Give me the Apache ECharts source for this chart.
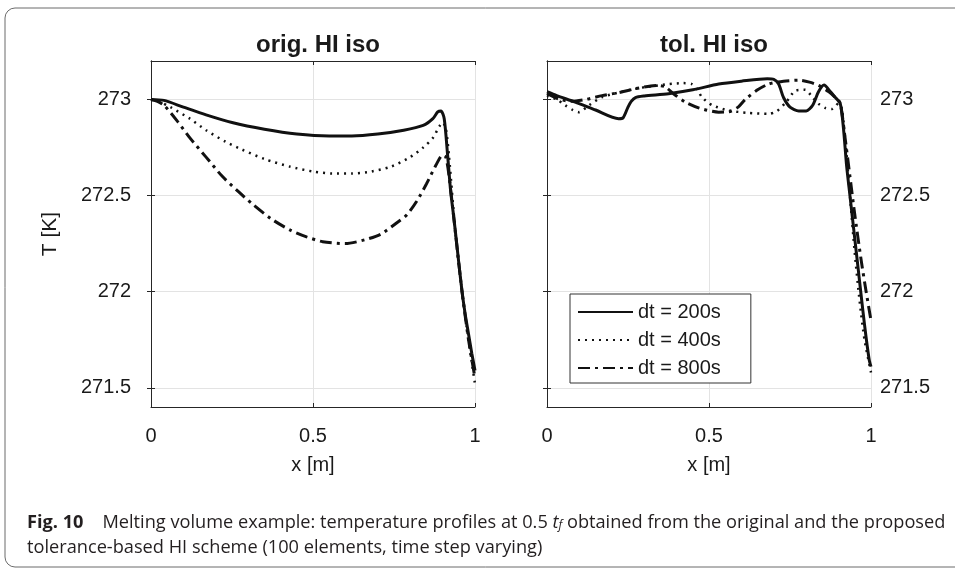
<!DOCTYPE html>
<html>
<head>
<meta charset="utf-8">
<script src="https://cdn.jsdelivr.net/npm/echarts@6/dist/echarts.min.js"></script>
<style>
  html, body { margin: 0; padding: 0; background: #fff; }
  #chart { width: 955px; height: 571px; }
</style>
</head>
<body>
<div id="chart"></div>
<script>
const panelTitles = ['orig. HI iso', 'tol. HI iso'];
const seriesNames = ['dt = 200s', 'dt = 400s', 'dt = 800s'];
const xTicks = [0, 0.5, 1];
const yTicks = [271.5, 272, 272.5, 273];

// left panel: orig. HI iso
const origX200 = [0, 0.04, 0.1, 0.17, 0.25, 0.35, 0.45, 0.55, 0.62, 0.7, 0.78, 0.84, 0.87, 0.885, 0.895, 0.905, 0.915, 0.925, 0.935, 0.95, 0.96, 0.97, 0.98, 0.99, 1.0];
const origT200 = [273.0, 272.995, 272.96, 272.92, 272.88, 272.845, 272.82, 272.81, 272.81, 272.82, 272.84, 272.865, 272.9, 272.935, 272.94, 272.9, 272.72, 272.52, 272.38, 272.15, 272.0, 271.88, 271.78, 271.68, 271.59];
const origX400 = [0, 0.03, 0.06, 0.12, 0.17, 0.23, 0.28, 0.35, 0.43, 0.5, 0.56, 0.62, 0.68, 0.74, 0.8, 0.84, 0.87, 0.89, 0.9, 0.91, 0.92, 0.94, 0.96, 0.98, 1.0];
const origT400 = [273.0, 272.985, 272.96, 272.9, 272.84, 272.78, 272.74, 272.69, 272.65, 272.625, 272.615, 272.615, 272.625, 272.65, 272.7, 272.75, 272.8, 272.86, 272.88, 272.85, 272.7, 272.3, 272.0, 271.75, 271.52];
const origX800 = [0, 0.02, 0.04, 0.08, 0.12, 0.17, 0.22, 0.27, 0.31, 0.37, 0.43, 0.48, 0.53, 0.6, 0.66, 0.71, 0.76, 0.79, 0.82, 0.85, 0.88, 0.9, 0.91, 0.92, 0.94, 0.96, 0.98, 1.0];
const origT800 = [273.0, 272.99, 272.97, 272.89, 272.8, 272.7, 272.6, 272.52, 272.46, 272.38, 272.32, 272.285, 272.26, 272.25, 272.27, 272.3, 272.36, 272.4, 272.47, 272.56, 272.66, 272.71, 272.7, 272.6, 272.3, 272.0, 271.75, 271.55];

// right panel: tol. HI iso
const tolX200 = [0, 0.03, 0.087, 0.15, 0.221, 0.235, 0.25, 0.26, 0.273, 0.3, 0.375, 0.45, 0.53, 0.6, 0.68, 0.7, 0.715, 0.73, 0.75, 0.777, 0.8, 0.82, 0.838, 0.855, 0.875, 0.89, 0.905, 0.915, 0.925, 0.935, 0.945, 0.955, 0.965, 0.975, 0.985, 0.995, 1.0];
const tolT200 = [273.04, 273.02, 272.986, 272.945, 272.9, 272.905, 272.96, 272.99, 273.01, 273.018, 273.03, 273.05, 273.08, 273.095, 273.108, 273.105, 273.08, 273.01, 272.96, 272.94, 272.94, 272.97, 273.04, 273.075, 273.04, 273.01, 272.98, 272.85, 272.65, 272.5, 272.35, 272.2, 272.05, 271.9, 271.76, 271.64, 271.61];
const tolX400 = [0, 0.03, 0.056, 0.08, 0.098, 0.13, 0.17, 0.22, 0.273, 0.33, 0.375, 0.42, 0.447, 0.465, 0.478, 0.51, 0.56, 0.62, 0.684, 0.71, 0.74, 0.766, 0.797, 0.82, 0.838, 0.86, 0.88, 0.9, 0.91, 0.92, 0.935, 0.95, 0.965, 0.98, 1.0];
const tolT400 = [273.02, 273.0, 272.97, 272.945, 272.934, 272.97, 273.012, 273.035, 273.056, 273.07, 273.08, 273.085, 273.08, 273.05, 273.012, 272.97, 272.943, 272.93, 272.925, 272.94, 272.99, 273.045, 273.05, 273.01, 272.978, 272.955, 272.95, 272.98, 272.95, 272.8, 272.5, 272.2, 271.95, 271.75, 271.58];
const tolX800 = [0, 0.04, 0.077, 0.12, 0.17, 0.22, 0.273, 0.32, 0.344, 0.365, 0.39, 0.427, 0.47, 0.53, 0.56, 0.59, 0.612, 0.65, 0.684, 0.73, 0.777, 0.81, 0.838, 0.87, 0.89, 0.905, 0.92, 0.935, 0.95, 0.97, 0.985, 1.0];
const tolT800 = [273.03, 273.0, 272.99, 273.0, 273.02, 273.035, 273.056, 273.07, 273.073, 273.065, 273.03, 272.986, 272.955, 272.934, 272.935, 272.96, 273.0, 273.05, 273.08, 273.095, 273.1, 273.09, 273.073, 273.04, 273.01, 272.98, 272.8, 272.6, 272.4, 272.16, 272.0, 271.85];

const FONT = 'Liberation Sans, Arial, Helvetica, sans-serif';
const CAPTION_FONT = 'Open Sans';
const AXIS_COLOR = '#262626';
const lineStyles = [
  { type: 'solid', width: 3 },
  { type: [2, 5], width: 2.5 },
  { type: [12, 5, 3, 5], width: 3 }
];
const panelData = [
  [[origX200, origT200], [origX400, origT400], [origX800, origT800]],
  [[tolX200, tolT200], [tolX400, tolT400], [tolX800, tolT800]]
];
const gridLefts = [151, 547];

function zip(xs, ys) {
  return xs.map((x, i) => [x, ys[i]]);
}

const chart = echarts.init(document.getElementById('chart'));

const grids = [], xAxes = [], yAxes = [], series = [], titles = [];
gridLefts.forEach((left, p) => {
  grids.push({ left: left, top: 61, width: 324, height: 346, show: false });
  titles.push({
    text: panelTitles[p], left: left + 162, top: 28, textAlign: 'center',
    textStyle: { fontFamily: FONT, fontSize: 24, fontWeight: 'bold', color: '#1a1a1a' }
  });
  // bottom x axis with labels
  xAxes.push({
    type: 'value', gridIndex: p, min: 0, max: 1, interval: 0.5, position: 'bottom',
    name: 'x [m]', nameLocation: 'middle', nameGap: 48,
    nameTextStyle: { fontFamily: FONT, fontSize: 20, color: '#1a1a1a' },
    axisLine: { show: true, lineStyle: { color: AXIS_COLOR, width: 1 } },
    axisTick: { show: true, inside: true, length: 4, lineStyle: { color: AXIS_COLOR } },
    axisLabel: { margin: 19, fontFamily: FONT, fontSize: 20, color: '#1a1a1a', formatter: v => String(v) },
    splitLine: { show: true, lineStyle: { color: '#e3e3e3', width: 1 } }
  });
  // top x axis (box)
  xAxes.push({
    type: 'value', gridIndex: p, min: 0, max: 1, interval: 0.5, position: 'top',
    axisLine: { show: true, lineStyle: { color: AXIS_COLOR, width: 1 } },
    axisTick: { show: true, inside: true, length: 4, lineStyle: { color: AXIS_COLOR } },
    axisLabel: { show: false }, splitLine: { show: false }
  });
  const labelsOnLeft = p === 0;
  const yBase = {
    type: 'value', gridIndex: p, min: 271.4, max: 273.2,
    axisLine: { show: true, lineStyle: { color: AXIS_COLOR, width: 1 } },
    axisTick: { show: true, inside: true, length: 4, customValues: yTicks, lineStyle: { color: AXIS_COLOR } }
  };
  yAxes.push(Object.assign({}, yBase, {
    position: 'left',
    name: labelsOnLeft ? 'T [K]' : '', nameLocation: 'middle', nameGap: 90,
    nameTextStyle: { fontFamily: FONT, fontSize: 21, color: '#1a1a1a' },
    axisLabel: { show: labelsOnLeft, customValues: yTicks, margin: 20, fontFamily: FONT, fontSize: 20, color: '#1a1a1a' },
    splitLine: { show: true, lineStyle: { color: '#e3e3e3', width: 1 } }
  }));
  yAxes.push(Object.assign({}, yBase, {
    position: 'right',
    axisLabel: { show: !labelsOnLeft, customValues: yTicks, margin: 9, fontFamily: FONT, fontSize: 20, color: '#1a1a1a' },
    splitLine: { show: false }
  }));
  panelData[p].forEach((pair, s) => {
    series.push({
      name: seriesNames[s], type: 'line',
      xAxisIndex: p * 2, yAxisIndex: p * 2,
      data: zip(pair[0], pair[1]),
      showSymbol: false, symbol: 'none', smooth: 0.25,
      lineStyle: { color: '#111', width: lineStyles[s].width, type: lineStyles[s].type, cap: 'butt' },
      itemStyle: { color: '#111' },
      z: 5 - s
    });
  });
});

chart.setOption({
  animation: false,
  backgroundColor: '#fff',
  title: titles,
  grid: grids,
  xAxis: xAxes,
  yAxis: yAxes,
  series: series,
  legend: {
    data: seriesNames, orient: 'vertical', left: 570, top: 294,
    itemWidth: 55, itemHeight: 14, itemGap: 8,
    padding: [8, 30, 5, 7],
    borderColor: '#333', borderWidth: 1, backgroundColor: '#fff',
    itemStyle: { opacity: 0 },
    textStyle: { fontFamily: FONT, fontSize: 20, color: '#1a1a1a' }
  },
  graphic: [
    {
      type: 'rect', silent: true, z: -10,
      shape: { x: 5, y: 8, width: 980, height: 559, r: 10 },
      style: { fill: 'none', stroke: '#6b6b6b', lineWidth: 1 }
    },
    {
      type: 'text', left: 27, top: 510,
      style: {
        text: '{b|Fig. 10}    Melting volume example: temperature profiles at 0.5 {i|t}{s|f} obtained from the original and the proposed\ntolerance-based HI scheme (100 elements, time step varying)',
        font: '18.2px "Open Sans", sans-serif',
        fill: '#231f20',
        lineHeight: 25,
        rich: {
          b: { fontWeight: 'bold', fontFamily: CAPTION_FONT, fontSize: 18.2, fill: '#231f20' },
          i: { fontStyle: 'italic', fontFamily: CAPTION_FONT, fontSize: 18.2, fill: '#231f20' },
          s: { fontStyle: 'italic', fontFamily: CAPTION_FONT, fontSize: 12, fill: '#231f20', padding: [7, 0, 0, 0] }
        }
      }
    }
  ]
});
</script>
</body>
</html>
